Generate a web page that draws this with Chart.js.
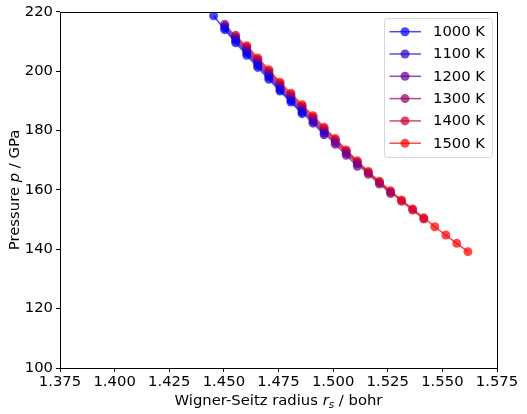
<!DOCTYPE html>
<html>
<head>
<meta charset="utf-8">
<script src="https://cdn.jsdelivr.net/npm/chart.js@4/dist/chart.umd.min.js"></script>
<style>
  html, body { margin: 0; padding: 0; background: #fff; }
  #wrap { width: 527px; height: 414px; position: relative; }
</style>
</head>
<body>
<div id="wrap"><canvas id="pressureChart"></canvas></div>
<script>
// Wigner-Seitz radius grid (bohr), shared by all isotherms
const radius = [1.4453, 1.4504, 1.4554, 1.4605, 1.4655, 1.4706, 1.4757, 1.4807, 1.4858, 1.4908,
  1.4959, 1.5010, 1.5060, 1.5111, 1.5161, 1.5212, 1.5263, 1.5313, 1.5364, 1.5415,
  1.5465, 1.5516, 1.5566, 1.5617];

// Pressure (GPa) per temperature, null where the isotherm has no point
const p1000 = [218.7, 214.0, 209.6, 205.4, 201.3, 197.3, 193.3, 189.6, 185.7,
  null, null, null, null, null, null, null, null, null, null, null, null, null, null, null];
const p1100 = [null, 214.6, 210.3, 206.1, 202.0, 198.0, 193.8, 190.1, 186.2, 182.5, 178.6,
  null, null, null, null, null, null, null, null, null, null, null, null, null];
const p1200 = [null, 215.2, 210.9, 206.7, 202.6, 198.6, 194.4, 190.7, 186.8, 183.1, 179.2, 175.4, 171.7, 168.0,
  null, null, null, null, null, null, null, null, null, null];
const p1300 = [null, 215.8, 211.5, 207.3, 203.2, 199.2, 195.0, 191.3, 187.4, 183.7, 179.9, 176.1, 172.4, 168.8,
  165.3, 162.0, 158.8, null, null, null, null, null, null, null];
const p1400 = [null, null, 212.1, 208.0, 203.9, 199.9, 195.7, 192.0, 188.1, 184.4, 180.5, 176.8, 173.0, 169.3,
  165.8, 162.5, 159.3, 156.2, 153.2, 150.2, null, null, null, null];
const p1500 = [null, null, null, 208.6, 204.5, 200.5, 196.3, 192.6, 188.7, 185.0, 181.1, 177.3, 173.5, 169.8,
  166.2, 162.9, 159.7, 156.6, 153.6, 150.6, 147.6, 144.8, 142.0, 139.2];

const temperatures = ['1000 K', '1100 K', '1200 K', '1300 K', '1400 K', '1500 K'];
const seriesValues = [p1000, p1100, p1200, p1300, p1400, p1500];
const seriesColors = [
  'rgba(0, 0, 255, 0.72)',
  'rgba(51, 0, 204, 0.72)',
  'rgba(102, 0, 153, 0.72)',
  'rgba(153, 0, 102, 0.72)',
  'rgba(204, 0, 51, 0.72)',
  'rgba(255, 0, 0, 0.72)'
];

const xTicks = [1.375, 1.400, 1.425, 1.450, 1.475, 1.500, 1.525, 1.550, 1.575];
const yTicks = [100, 120, 140, 160, 180, 200, 220];

const FONT = 'DejaVu Sans';
const FONT_SIZE = 14.8;

function toPoints(values) {
  const pts = [];
  values.forEach((v, i) => {
    if (v !== null) pts.push({ x: radius[i], y: v });
  });
  return pts;
}

// Draw text made of segments with different styles, returns width
function drawSegments(ctx, segments, x, y, measureOnly) {
  let cx = x;
  segments.forEach(seg => {
    ctx.font = (seg.italic ? 'italic ' : '') + seg.size + 'px "' + FONT + '"';
    if (!measureOnly) ctx.fillText(seg.text, cx, y + (seg.dy || 0));
    cx += ctx.measureText(seg.text).width;
  });
  return cx - x;
}

const decorPlugin = {
  id: 'decor',
  afterDraw(chart) {
    const ctx = chart.ctx;
    const a = chart.chartArea;
    ctx.save();

    // axes frame
    ctx.strokeStyle = '#000';
    ctx.lineWidth = 1;
    ctx.strokeRect(Math.round(a.left) + 0.5, Math.round(a.top) + 0.5,
      Math.round(a.right - a.left), Math.round(a.bottom - a.top));

    ctx.fillStyle = '#000';
    ctx.textBaseline = 'alphabetic';

    // x axis title
    const xTitle = [
      { text: 'Wigner-Seitz radius ', size: FONT_SIZE },
      { text: 'r', size: FONT_SIZE, italic: true },
      { text: 's', size: FONT_SIZE * 0.7, italic: true, dy: 3 },
      { text: ' / bohr', size: FONT_SIZE }
    ];
    const xw = drawSegments(ctx, xTitle, 0, 0, true);
    drawSegments(ctx, xTitle, (a.left + a.right) / 2 - xw / 2, 405, false);

    // y axis title (rotated)
    const yTitle = [
      { text: 'Pressure ', size: FONT_SIZE },
      { text: 'p', size: FONT_SIZE, italic: true },
      { text: ' / GPa', size: FONT_SIZE }
    ];
    const yw = drawSegments(ctx, yTitle, 0, 0, true);
    ctx.save();
    ctx.translate(18.5, (a.top + a.bottom) / 2);
    ctx.rotate(-Math.PI / 2);
    drawSegments(ctx, yTitle, -yw / 2, 0, false);
    ctx.restore();

    // legend box
    const bx = 384.5, by = 18.5, bw = 108, bh = 139, r = 3;
    ctx.beginPath();
    ctx.moveTo(bx + r, by);
    ctx.arcTo(bx + bw, by, bx + bw, by + bh, r);
    ctx.arcTo(bx + bw, by + bh, bx, by + bh, r);
    ctx.arcTo(bx, by + bh, bx, by, r);
    ctx.arcTo(bx, by, bx + bw, by, r);
    ctx.closePath();
    ctx.fillStyle = 'rgba(255,255,255,0.8)';
    ctx.fill();
    ctx.strokeStyle = '#d6d6d6';
    ctx.stroke();

    chart.data.datasets.forEach((ds, i) => {
      const ry = 31.7 + i * 22.3;
      ctx.strokeStyle = ds.borderColor;
      ctx.lineWidth = 1.5;
      ctx.beginPath();
      ctx.moveTo(389.5, ry);
      ctx.lineTo(421, ry);
      ctx.stroke();
      ctx.fillStyle = ds.backgroundColor;
      ctx.beginPath();
      ctx.arc(405, ry, 4.5, 0, Math.PI * 2);
      ctx.fill();
      ctx.fillStyle = '#000';
      ctx.font = FONT_SIZE + 'px "' + FONT + '"';
      ctx.textBaseline = 'middle';
      ctx.fillText(ds.label, 433, ry + 0.5);
    });

    ctx.restore();
  }
};

const datasets = temperatures.map((label, i) => ({
  label: label,
  data: toPoints(seriesValues[i]),
  borderColor: seriesColors[i],
  backgroundColor: seriesColors[i],
  borderWidth: 1.5,
  pointRadius: 4.5,
  pointBorderWidth: 0,
  pointHoverRadius: 4.5,
  tension: 0,
  clip: 0
}));

new Chart(document.getElementById('pressureChart'), {
  type: 'line',
  data: { datasets: datasets },
  options: {
    responsive: true,
    maintainAspectRatio: false,
    animation: false,
    events: [],
    layout: { padding: { top: 11, right: 30, left: 0, bottom: 0 } },
    plugins: {
      legend: { display: false },
      tooltip: { enabled: false }
    },
    scales: {
      x: {
        type: 'linear',
        min: 1.375,
        max: 1.575,
        afterBuildTicks(scale) {
          scale.ticks = xTicks.map(v => ({ value: v }));
        },
        afterFit(scale) { scale.height = 46; },
        grid: { drawOnChartArea: false, drawTicks: true, tickLength: 4, color: '#000' },
        border: { display: false },
        ticks: {
          color: '#000',
          padding: 1,
          maxRotation: 0,
          autoSkip: false,
          font: { family: FONT, size: FONT_SIZE },
          callback: v => v.toFixed(3)
        }
      },
      y: {
        min: 100,
        max: 220,
        afterBuildTicks(scale) {
          scale.ticks = yTicks.map(v => ({ value: v }));
        },
        afterFit(scale) { scale.width = 60; },
        grid: { drawOnChartArea: false, drawTicks: true, tickLength: 4, color: '#000' },
        border: { display: false },
        ticks: {
          color: '#000',
          padding: 3,
          font: { family: FONT, size: FONT_SIZE },
          callback: v => String(v)
        }
      }
    }
  },
  plugins: [decorPlugin]
});
</script>
</body>
</html>
